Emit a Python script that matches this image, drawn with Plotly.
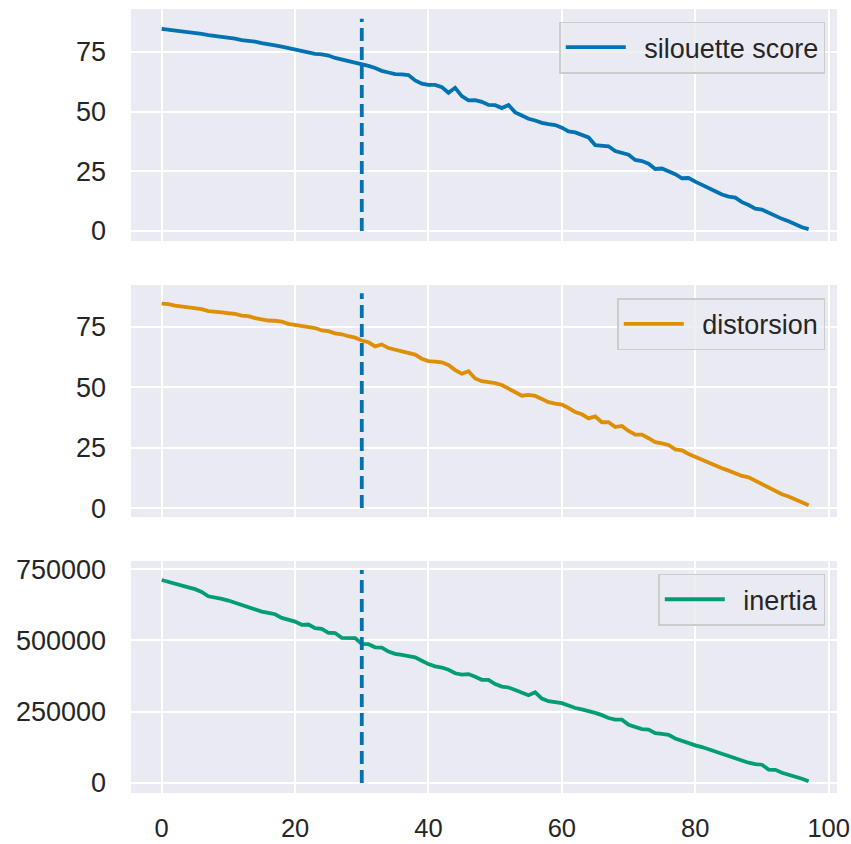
import plotly.graph_objects as go
from plotly.subplots import make_subplots

x_vals = list(range(98))

silhouette = [84.7, 84.4, 84.0, 83.7, 83.2, 82.9, 82.6, 82.1, 81.8, 81.5,
              80.9, 80.6, 80.0, 79.7, 79.3, 78.7, 78.4, 77.8, 77.2, 76.6,
              75.9, 75.3, 74.5, 74.2, 74.0, 73.5, 72.5, 71.9, 71.3, 70.5,
              69.8, 69.2, 68.3, 67.1, 66.4, 65.7, 65.6, 65.3, 63.1, 61.7,
              61.2, 61.2, 60.3, 57.9, 60.0, 56.5, 54.7, 54.8, 54.1, 52.8,
              52.7, 51.5, 52.8, 49.7, 48.4, 47.0, 46.3, 45.3, 44.8, 44.4,
              43.3, 41.7, 41.3, 40.3, 39.2, 36.0, 35.9, 35.5, 33.5, 32.8,
              32.0, 29.8, 29.3, 28.2, 26.0, 26.2, 25.0, 23.8, 22.1, 22.2,
              20.7, 19.5, 18.2, 16.7, 15.3, 14.4, 14.0, 12.1, 10.9, 9.4,
              9.0, 7.6, 6.1, 5.1, 4.1, 2.7, 1.6, 0.8]

distortion = [84.6, 84.4, 83.8, 83.4, 83.2, 82.8, 82.3, 81.5, 81.4, 81.0,
              80.6, 80.3, 79.6, 79.4, 78.6, 78.0, 77.6, 77.5, 77.1, 76.2,
              75.7, 75.4, 74.7, 74.5, 73.5, 73.2, 72.3, 71.9, 71.1, 70.5,
              69.3, 68.6, 66.9, 67.7, 66.2, 65.5, 64.6, 64.0, 63.5, 61.8,
              60.8, 60.6, 60.3, 59.2, 57.1, 55.6, 56.6, 53.6, 52.5, 52.1,
              51.7, 50.9, 49.4, 48.3, 46.5, 46.8, 46.4, 45.1, 43.8, 43.2,
              42.8, 41.4, 39.7, 38.8, 37.1, 37.9, 35.5, 35.5, 33.5, 34.0,
              31.9, 30.4, 30.4, 28.9, 27.3, 26.8, 26.1, 24.3, 23.9, 22.4,
              21.2, 19.8, 19.0, 17.6, 16.5, 15.5, 14.2, 13.3, 12.7, 11.3,
              10.0, 8.2, 7.0, 5.7, 4.8, 3.6, 2.6, 1.2]

inertia = [712000, 705000, 697000, 690000, 686000, 680000, 670000, 655000, 652000, 646000,
           640000, 632000, 622000, 616000, 608000, 601000, 597000, 592000, 579000, 572000,
           566000, 555000, 556000, 543000, 541000, 527000, 526000, 509000, 508000, 508000,
           488000, 487000, 476000, 475000, 461000, 453000, 449000, 444000, 441000, 429000,
           417000, 409000, 405000, 397000, 385000, 380000, 382000, 373000, 362000, 362000,
           347000, 338000, 335000, 326000, 318000, 308000, 318000, 296000, 287000, 283000,
           280000, 272000, 263000, 258000, 253000, 246000, 238000, 228000, 222000, 222000,
           204000, 195000, 189000, 187000, 175000, 172000, 169000, 156000, 147000, 138000,
           132000, 126000, 118000, 111000, 102000, 94000, 88000, 80000, 71000, 66000,
           64000, 47000, 46000, 36000, 30000, 21000, 15000, 6000]

series_names = ["silouette score", "distorsion", "inertia"]
chosen_k = 30

colors = ["#0173B2", "#DE8F05", "#029E73"]
TXT = "#262626"
FONT = "Liberation Sans, Arial, sans-serif"

fig = make_subplots(rows=3, cols=1, shared_xaxes=True, vertical_spacing=0.056)

all_series = [silhouette, distortion, inertia]
legends = ["legend", "legend2", "legend3"]
for i, (ys, name) in enumerate(zip(all_series, series_names)):
    fig.add_trace(go.Scatter(x=x_vals, y=ys, mode="lines", name="\u2002" + name,
                             line=dict(color=colors[i], width=3.8),
                             legend=legends[i]), row=i + 1, col=1)
    fig.add_trace(go.Scatter(x=[chosen_k, chosen_k], y=[0, max(ys) * 1.05], mode="lines",
                             line=dict(color=colors[0], width=3.8, dash="13px,6px"),
                             showlegend=False, hoverinfo="skip"), row=i + 1, col=1)

yranges = [[-4.2, 93.0], [-3.7, 92.3], [-35200, 779000]]
ydticks = [25, 25, 250000]
for i in range(3):
    fig.update_yaxes(range=yranges[i], dtick=ydticks[i], tick0=0, tickformat="d",
                     showgrid=True, gridcolor="white", gridwidth=2.4, zeroline=False,
                     showline=False, ticks="", ticklabelstandoff=24, automargin=False,
                     ticklabeloverflow="allow",
                     tickfont=dict(size=27, color=TXT, family=FONT),
                     row=i + 1, col=1)
    fig.update_xaxes(range=[-4.6, 101.25], dtick=20, tick0=0,
                     showgrid=True, gridcolor="white", gridwidth=2.4, zeroline=False,
                     showline=False, ticks="", ticklabelstandoff=17, automargin=False,
                     ticklabeloverflow="allow",
                     tickfont=dict(size=25.5, color=TXT, family=FONT),
                     row=i + 1, col=1)

legend_style = dict(bgcolor="rgba(234,234,242,0.8)", bordercolor="#CCCCCC", borderwidth=1.5,
                    font=dict(size=27, color=TXT, family=FONT), itemwidth=60,
                    xanchor="right", yanchor="top", x=0.9834)

fig.update_layout(
    width=851, height=844,
    margin=dict(l=131, r=14, t=9, b=51, autoexpand=False),
    paper_bgcolor="white",
    plot_bgcolor="#EAEAF2",
    font=dict(family=FONT, color=TXT),
    legend=dict(y=0.984, **legend_style),
    legend2=dict(y=0.631, **legend_style),
    legend3=dict(y=0.2797, **legend_style),
)

fig.write_html("out.html",
               config={"displayModeBar": False},
               post_script="document.body.style.margin='0';document.body.style.overflow='hidden';")
